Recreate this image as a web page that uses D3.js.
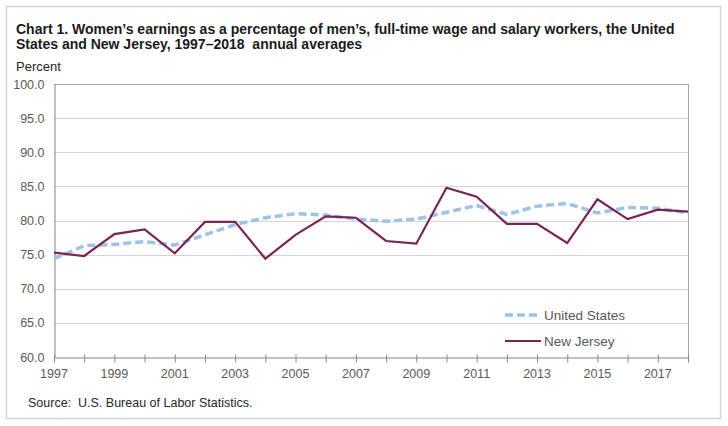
<!DOCTYPE html>
<html>
<head>
<meta charset="utf-8">
<script src="https://cdn.jsdelivr.net/npm/d3@7"></script>
<style>
  body { margin: 0; background: #fff; }
  text { font-family: "Liberation Sans", Arial, sans-serif; white-space: pre; }
</style>
</head>
<body>
<div id="container"></div>
<script>
const years = d3.range(1997, 2019);
const unitedStates = [74.4, 76.3, 76.5, 76.9, 76.4, 77.9, 79.4, 80.4, 81.0, 80.8, 80.2,
  79.9, 80.2, 81.2, 82.2, 80.9, 82.1, 82.5, 81.1, 81.9, 81.8, 81.1];
const newJersey = [75.3, 74.8, 78.0, 78.7, 75.2, 79.8, 79.8, 74.4, 77.9, 80.6, 80.4,
  77.0, 76.6, 84.8, 83.5, 79.5, 79.5, 76.7, 83.1, 80.2, 81.6, 81.3];
const yTicks = [60, 65, 70, 75, 80, 85, 90, 95, 100];
const xLabelYears = [1997, 1999, 2001, 2003, 2005, 2007, 2009, 2011, 2013, 2015, 2017];

const width = 728;
const height = 426;
const plot = { left: 54, right: 688, top: 84, bottom: 357 };

const svg = d3
  .select("#container")
  .append("svg")
  .attr("width", width)
  .attr("height", height);

// outer frame
svg
  .append("rect")
  .attr("x", 6.5)
  .attr("y", 6.5)
  .attr("width", 714)
  .attr("height", 412)
  .attr("fill", "none")
  .attr("stroke", "#d4d4d4")
  .attr("stroke-width", 1.5);

const title = svg
  .append("text")
  .attr("x", 16)
  .attr("y", 33.5)
  .attr("font-size", "14px")
  .attr("font-weight", "bold")
  .attr("fill", "#1a1a1a");
title
  .append("tspan")
  .attr("x", 16)
  .text("Chart 1. Women\u2019s earnings as a percentage of men\u2019s, full-time wage and salary workers, the United");
title
  .append("tspan")
  .attr("x", 16)
  .attr("dy", 15)
  .text("States and New Jersey, 1997\u20132018  annual averages");

svg
  .append("text")
  .attr("x", 16)
  .attr("y", 70.5)
  .attr("font-size", "13px")
  .attr("fill", "#262626")
  .text("Percent");

const x = d3.scaleLinear().domain([1997, 2018]).range([plot.left, plot.right]);
const y = d3.scaleLinear().domain([60, 100]).range([plot.bottom, plot.top]);

// gridlines
svg
  .append("g")
  .selectAll("line")
  .data(yTicks.slice(1))
  .enter()
  .append("line")
  .attr("x1", plot.left)
  .attr("x2", plot.right)
  .attr("y1", (d) => Math.round(y(d)) + 0.5)
  .attr("y2", (d) => Math.round(y(d)) + 0.5)
  .attr("stroke", (d) => (d === 100 ? "#a6a6a6" : "#d4d4d4"))
  .attr("stroke-width", 1);

// right border of plot
svg
  .append("line")
  .attr("x1", plot.right + 0.5)
  .attr("x2", plot.right + 0.5)
  .attr("y1", plot.top)
  .attr("y2", plot.bottom)
  .attr("stroke", "#a6a6a6");

// y axis
const yAxis = svg
  .append("g")
  .attr("transform", `translate(${plot.left + 0.5},0)`)
  .call(
    d3.axisLeft(y).tickValues(yTicks).tickSize(0).tickPadding(10).tickFormat(d3.format(".1f"))
  );
yAxis.select(".domain").attr("stroke", "#868686");
yAxis
  .selectAll("text")
  .attr("font-size", "12.5px")
  .attr("fill", "#595959")
  .attr("font-family", "Liberation Sans, Arial, sans-serif");

// x axis
const xAxis = svg
  .append("g")
  .attr("transform", `translate(0,${plot.bottom + 0.5})`)
  .call(d3.axisBottom(x).tickValues(years).tickSize(5).tickSizeOuter(0).tickFormat(""));
xAxis.select(".domain").attr("stroke", "#868686");
xAxis.selectAll(".tick line").attr("stroke", "#868686").attr("y1", -3);

svg
  .append("g")
  .selectAll("text")
  .data(xLabelYears)
  .enter()
  .append("text")
  .attr("x", (d) => x(d))
  .attr("y", plot.bottom + 21)
  .attr("text-anchor", "middle")
  .attr("font-size", "12.5px")
  .attr("fill", "#595959")
  .text((d) => d);

const line = d3
  .line()
  .x((d, i) => x(years[i]))
  .y((d) => y(d));

svg
  .append("path")
  .datum(unitedStates)
  .attr("d", line)
  .attr("fill", "none")
  .attr("stroke", "#9dc3e9")
  .attr("stroke-width", 3.5)
  .attr("stroke-dasharray", "8,4");

svg
  .append("path")
  .datum(newJersey)
  .attr("d", line)
  .attr("fill", "none")
  .attr("stroke", "#7b2452")
  .attr("stroke-width", 2.2)
  .attr("stroke-linejoin", "miter");

// legend
const legendItems = [
  { name: "United States", color: "#9dc3e9", width: 3.5, dash: "8,4", y: 315 },
  { name: "New Jersey", color: "#7b2452", width: 2.2, dash: null, y: 341 },
];
const legend = svg.append("g").attr("class", "legend");
legendItems.forEach((item) => {
  legend
    .append("line")
    .attr("x1", 505)
    .attr("x2", 541)
    .attr("y1", item.y)
    .attr("y2", item.y)
    .attr("stroke", item.color)
    .attr("stroke-width", item.width)
    .attr("stroke-dasharray", item.dash);
  legend
    .append("text")
    .attr("x", 544)
    .attr("y", item.y + 5)
    .attr("font-size", "13.5px")
    .attr("fill", "#595959")
    .text(item.name);
});

svg
  .append("text")
  .attr("x", 28)
  .attr("y", 407)
  .attr("font-size", "12.5px")
  .attr("fill", "#262626")
  .text("Source:  U.S. Bureau of Labor Statistics.");
</script>
</body>
</html>
